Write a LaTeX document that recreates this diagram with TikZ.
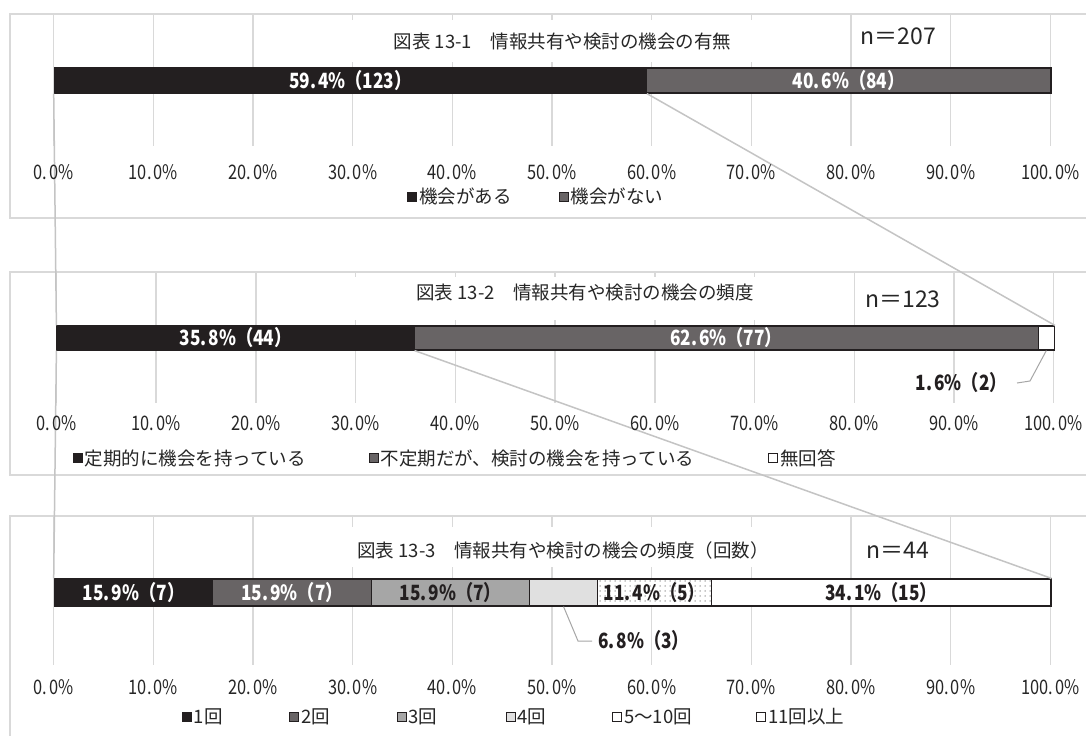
\documentclass[tikz,border=0pt]{standalone}
\usepackage{fontspec}
\setmainfont{Noto Sans CJK JP}
\newfontfamily\numfont[FakeStretch=0.82]{Noto Sans CJK JP}
\usetikzlibrary{patterns.meta}
\definecolor{barblack}{HTML}{231F20}
\definecolor{bardark}{HTML}{686465}
\definecolor{barmid}{HTML}{A6A6A6}
\definecolor{barlight}{HTML}{E0E0E0}
\definecolor{gridc}{HTML}{D9D9D9}
\definecolor{connc}{HTML}{C4C4C4}
\definecolor{txt}{HTML}{262626}
\tikzset{
  panel/.style={draw=gridc, line width=1.6pt},
  gridln/.style={draw=gridc, line width=1.5pt},
  conn/.style={draw=connc, line width=1.5pt},
  lead/.style={draw=barmid, line width=1pt},
  seg/.style={draw=barblack, line width=1.2pt, anchor=west, inner sep=0pt,
    font=\numfont\bfseries\fontsize{21}{21}\selectfont},
  ttl/.style={font=\fontsize{18.5}{18.5}\selectfont, text=txt, inner sep=0pt},
  nlab/.style={font=\fontsize{23}{23}\selectfont, text=txt, inner sep=0pt},
  axl/.style={font=\numfont\fontsize{20}{20}\selectfont, text=txt, inner sep=0pt},
  leg/.style={font=\fontsize{18.5}{18.5}\selectfont, text=txt, inner sep=0pt, anchor=west},
  legkey/.style={draw=barblack, line width=0.8pt, minimum size=9pt, inner sep=0pt, anchor=west},
  blab/.style={font=\numfont\bfseries\fontsize{21}{21}\selectfont, text=barblack, inner sep=0pt},
  dotfill/.style={preaction={fill=white}, pattern={Dots[distance=5pt,radius=0.75pt]}, pattern color=black!45},
}
\begin{document}
\begin{tikzpicture}[x=1pt,y=-1pt]
\useasboundingbox[fill=white] (0,0) rectangle (1086,736);

% ---------- panel frames ----------
\draw[panel] (1086,14) -- (10,14) -- (10,218) -- (1086,218);
\draw[panel] (1086,272) -- (10,272) -- (10,475) -- (1086,475);
\draw[panel] (1086,516) -- (10,516) -- (10,736);

% ---------- grid lines ----------
\foreach \i in {0,...,10} {
  \draw[gridln] ({53.7+99.66*\i},14) -- ({53.7+99.66*\i},146);
  \draw[gridln] ({56.4+99.73*\i},272) -- ({56.4+99.73*\i},403);
  \draw[gridln] ({53.7+99.66*\i},516) -- ({53.7+99.66*\i},665);
}

% ---------- title backgrounds ----------
\fill[white] (346,20) rectangle (778,62);
\fill[white] (346,277) rectangle (800,320);
\fill[white] (345,527) rectangle (780,567);

% ---------- titles ----------
\node[ttl] (t1) at (562.5,41.5) {図表 13-1　情報共有や検討の機会の有無};
\node[nlab] (n1) at (898.5,36.5) {n＝207};
\node[ttl] (t2) at (585,293) {図表 13-2　情報共有や検討の機会の頻度};
\node[nlab] (n2) at (903,299) {n＝123};
\node[ttl] (t3) at (563,550) {図表 13-3　情報共有や検討の機会の頻度（回数）};
\node[nlab] (n3) at (898,550) {n＝44};

% ---------- bars: panel 1 ----------
\node[seg, fill=barblack, text=white, minimum width=592pt, minimum height=25pt] (b1a) at (53.7,80.5) {59.\kern2pt 4\%（123）};
\node[seg, fill=bardark, text=white, minimum width=404.6pt, minimum height=25pt] (b1b) at (645.7,80.5) {40.\kern2pt 6\%（84）};

% ---------- bars: panel 2 ----------
\node[seg, fill=barblack, text=white, minimum width=357pt, minimum height=24pt] (b2a) at (56.4,338) {35.\kern2pt 8\%（44）};
\node[seg, fill=bardark, text=white, minimum width=624.3pt, minimum height=24pt] (b2b) at (413.4,338) {62.\kern2pt 6\%（77）};
\node[seg, fill=white, minimum width=16pt, minimum height=24pt] (b2c) at (1037.7,338) {};

% ---------- bars: panel 3 ----------
\node[seg, fill=barblack, text=white, minimum width=158.5pt, minimum height=27pt] (c1) at (53.7,592.5) {15.\kern2pt 9\%（7）};
\node[seg, fill=bardark, text=white, minimum width=158.4pt, minimum height=27pt] (c2) at (212.2,592.5) {15.\kern2pt 9\%（7）};
\node[seg, fill=barmid, text=barblack, minimum width=158.5pt, minimum height=27pt] (c3) at (370.6,592.5) {15.\kern2pt 9\%（7）};
\node[seg, fill=barlight, minimum width=67.7pt, minimum height=27pt] (c4) at (529.1,592.5) {};
\node[seg, dotfill, text=barblack, minimum width=113.7pt, minimum height=27pt] (c5) at (596.8,592.5) {11.\kern2pt 4\%（5）};
\node[seg, fill=white, text=barblack, minimum width=339.8pt, minimum height=27pt] (c6) at (710.5,592.5) {34.\kern2pt 1\%（15）};

% ---------- zoom connectors ----------
\draw[conn] (b1a.south west) -- (b2a.north west);
\draw[conn] (b1a.south east) -- (b2c.north east);
\draw[conn] (b2a.south west) -- (c1.north west);
\draw[conn] (b2a.south east) -- (c6.north east);

% ---------- outside data labels ----------
\node[blab, anchor=east] (l16) at (1007,383) {1.\kern2pt 6\%（2）};
\draw[lead] (b2c.south) -- (1030,381) -- ([xshift=10pt]l16.east);
\node[blab, anchor=west] (l68) at (598,641) {6.\kern2pt 8\%（3）};
\draw[lead] (c4.south) -- (578,641) -- ([xshift=-6pt]l68.west);

% ---------- axis labels ----------
\foreach \i/\v in {0/0,1/10,2/20,3/30,4/40,5/50,6/60,7/70,8/80,9/90,10/100} {
  \node[axl] (ax1-\i) at ({53.7+99.66*\i},171.7) {\v.\kern2pt 0\%};
  \node[axl] (ax2-\i) at ({56.4+99.73*\i},423) {\v.\kern2pt 0\%};
  \node[axl] (ax3-\i) at ({53.7+99.66*\i},686.7) {\v.\kern2pt 0\%};
}

% ---------- legends ----------
\node[legkey, fill=barblack] (k1a) at (407,196.7) {};
\node[leg] (g1a) at ([xshift=2pt]k1a.east) {機会がある};
\node[legkey, fill=bardark] (k1b) at (558.6,196.7) {};
\node[leg] (g1b) at ([xshift=2pt]k1b.east) {機会がない};

\node[legkey, fill=barblack] (k2a) at (72.7,458) {};
\node[leg] (g2a) at ([xshift=2pt]k2a.east) {定期的に機会を持っている};
\node[legkey, fill=bardark] (k2b) at (368.8,458) {};
\node[leg] (g2b) at ([xshift=2pt]k2b.east) {不定期だが、検討の機会を持っている};
\node[legkey, fill=white] (k2c) at (768,458) {};
\node[leg] (g2c) at ([xshift=2pt]k2c.east) {無回答};

\node[legkey, fill=barblack] (k3a) at (181.8,716.7) {};
\node[leg] (g3a) at ([xshift=2pt]k3a.east) {1回};
\node[legkey, fill=bardark] (k3b) at (289,716.7) {};
\node[leg] (g3b) at ([xshift=2pt]k3b.east) {2回};
\node[legkey, fill=barmid] (k3c) at (396.5,716.7) {};
\node[leg] (g3c) at ([xshift=2pt]k3c.east) {3回};
\node[legkey, fill=barlight] (k3d) at (505.5,716.7) {};
\node[leg] (g3d) at ([xshift=2pt]k3d.east) {4回};
\node[legkey, fill=white] (k3e) at (612,716.7) {};
\node[leg] (g3e) at ([xshift=2pt]k3e.east) {5〜10回};
\node[legkey, fill=white] (k3f) at (756,716.7) {};
\node[leg] (g3f) at ([xshift=2pt]k3f.east) {11回以上};
\end{tikzpicture}
\end{document}
